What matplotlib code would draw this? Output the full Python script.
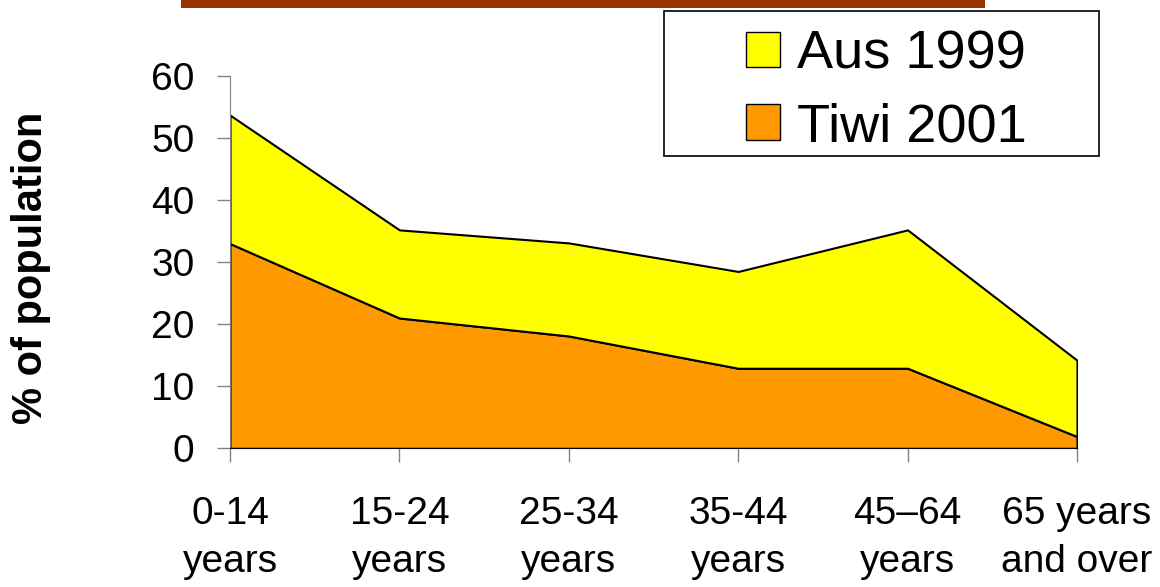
import matplotlib
matplotlib.use("Agg")
import matplotlib.pyplot as plt
from matplotlib.patches import Patch, Rectangle

plt.rcParams["font.family"] = ["Liberation Sans", "DejaVu Sans"]

# data (stacked area, Tiwi at the bottom)
age_groups = ["0-14\nyears", "15-24\nyears", "25-34\nyears",
              "35-44\nyears", "45–64\nyears", "65 years\nand over"]
tiwi_2001 = [33.0, 21.0, 18.1, 12.9, 12.9, 1.9]
aus_1999 = [20.7, 14.2, 15.0, 15.6, 22.3, 12.3]
series_names = ["Tiwi 2001", "Aus 1999"]
colors = ["#FF9900", "#FFFF00"]
y_ticks = [0, 10, 20, 30, 40, 50, 60]

W, H = 1160, 587
fig = plt.figure(figsize=(W / 100, H / 100), dpi=100)
ax = fig.add_axes([230 / W, 1 - 448.3 / H, (1077 - 230) / W, (448.3 - 76) / H])

x = list(range(len(age_groups)))
ax.stackplot(x, tiwi_2001, aus_1999, colors=colors,
             edgecolor="black", linewidth=1.5)

ax.set_xlim(0, len(age_groups) - 1)
ax.set_ylim(0, 60)
ax.set_yticks(y_ticks)
ax.set_xticks(x)
ax.set_xticklabels(age_groups, linespacing=1.45)

for side in ["top", "right"]:
    ax.spines[side].set_visible(False)
ax.spines["left"].set_color("#808080")
ax.spines["bottom"].set_color("black")
ax.tick_params(axis="y", direction="out", length=9.5, width=1, color="#808080",
               labelsize=28, pad=16)
ax.tick_params(axis="x", direction="out", length=10, width=1, color="#808080",
               labelsize=28, pad=24)

fig.text(31 / W, 1 - 268 / H, "% of population", rotation=90, fontsize=30,
         fontweight="bold", ha="center", va="center")

# brown bar left over from the slide title
fig.add_artist(Rectangle((181 / W, 1 - 8 / H), (985 - 181) / W, 8 / H,
                         transform=fig.transFigure, facecolor="#993300",
                         edgecolor="none"))

# legend box
fig.add_artist(Rectangle((664 / W, 1 - 156 / H), (1099 - 664) / W, (156 - 11) / H,
                         transform=fig.transFigure, facecolor="white",
                         edgecolor="black", linewidth=1.2, zorder=5))
handles = [Patch(facecolor=colors[1], edgecolor="black", label=series_names[1]),
           Patch(facecolor=colors[0], edgecolor="black", label=series_names[0])]
leg = fig.legend(handles=handles, loc="center",
                 bbox_to_anchor=(886 / W, 1 - 91 / H), frameon=False,
                 fontsize=39, handlelength=0.64, handleheight=0.64,
                 handletextpad=0.3, labelspacing=0.42, borderpad=0)
leg.set_zorder(6)

fig.savefig("out.png", dpi=100)
